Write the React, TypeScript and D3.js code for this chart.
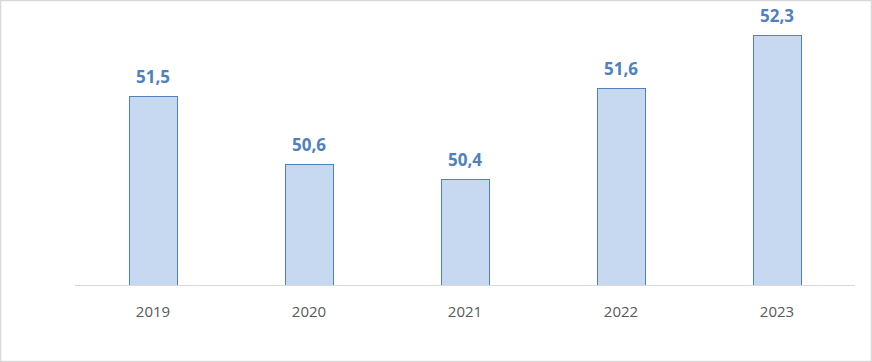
import * as d3 from "d3";
import { useEffect, useRef } from "react";

const years = ["2019", "2020", "2021", "2022", "2023"];
const values = [51.5, 50.6, 50.4, 51.6, 52.3];

export default function App() {
  const svgRef = useRef<SVGSVGElement>(null);

  useEffect(() => {
    if (!svgRef.current) return;
    const svg = d3.select(svgRef.current);
    svg.selectAll("*").remove();

    const W = 872;
    const H = 362;
    const baseY = 285;

    // chart frame
    svg
      .append("rect")
      .attr("x", 0.5)
      .attr("y", 0.5)
      .attr("width", W - 1)
      .attr("height", H - 1)
      .attr("fill", "#fff")
      .attr("stroke", "#d9d9d9")
      .attr("stroke-width", 1.5);

    const x = d3.scaleBand().domain(years).range([75, 855]).paddingInner(0.69).paddingOuter(0.345);
    const y = d3.scaleLinear().domain([49, 52.3]).range([baseY, 35]);

    const g = svg.append("g");

    g.selectAll("rect.bar")
      .data(values)
      .enter()
      .append("rect")
      .attr("class", "bar")
      .attr("x", (_, i) => Math.round(x(years[i])!) + 0.5)
      .attr("y", (d) => Math.round(y(d)) + 0.5)
      .attr("width", Math.round(x.bandwidth()))
      .attr("height", (d) => baseY - Math.round(y(d)))
      .attr("fill", "#c6d9f1")
      .attr("stroke", "#4f81bd")
      .attr("stroke-width", 1);

    // baseline
    svg
      .append("line")
      .attr("x1", 75)
      .attr("x2", 855)
      .attr("y1", baseY + 0.5)
      .attr("y2", baseY + 0.5)
      .attr("stroke", "#d9d9d9")
      .attr("stroke-width", 1);

    g.selectAll("text.val")
      .data(values)
      .enter()
      .append("text")
      .attr("class", "val")
      .attr("x", (_, i) => x(years[i])! + x.bandwidth() / 2)
      .attr("y", (d) => y(d) - 13)
      .attr("text-anchor", "middle")
      .attr("fill", "#4f81bd")
      .style("font-family", "'Open Sans', 'Liberation Sans', sans-serif")
      .style("font-weight", "bold")
      .style("font-size", "17px")
      .text((d) => d.toFixed(1).replace(".", ","));

    g.selectAll("text.cat")
      .data(years)
      .enter()
      .append("text")
      .attr("class", "cat")
      .attr("x", (d) => x(d)! + x.bandwidth() / 2)
      .attr("y", 317)
      .attr("text-anchor", "middle")
      .attr("fill", "#595959")
      .style("font-family", "'Open Sans', 'Liberation Sans', sans-serif")
      .style("font-size", "15px")
      .text((d) => d);
  }, []);

  return (
    <div style={{ position: "fixed", left: 0, top: 0 }}>
      <svg ref={svgRef} width={872} height={362} style={{ display: "block" }} />
    </div>
  );
}
